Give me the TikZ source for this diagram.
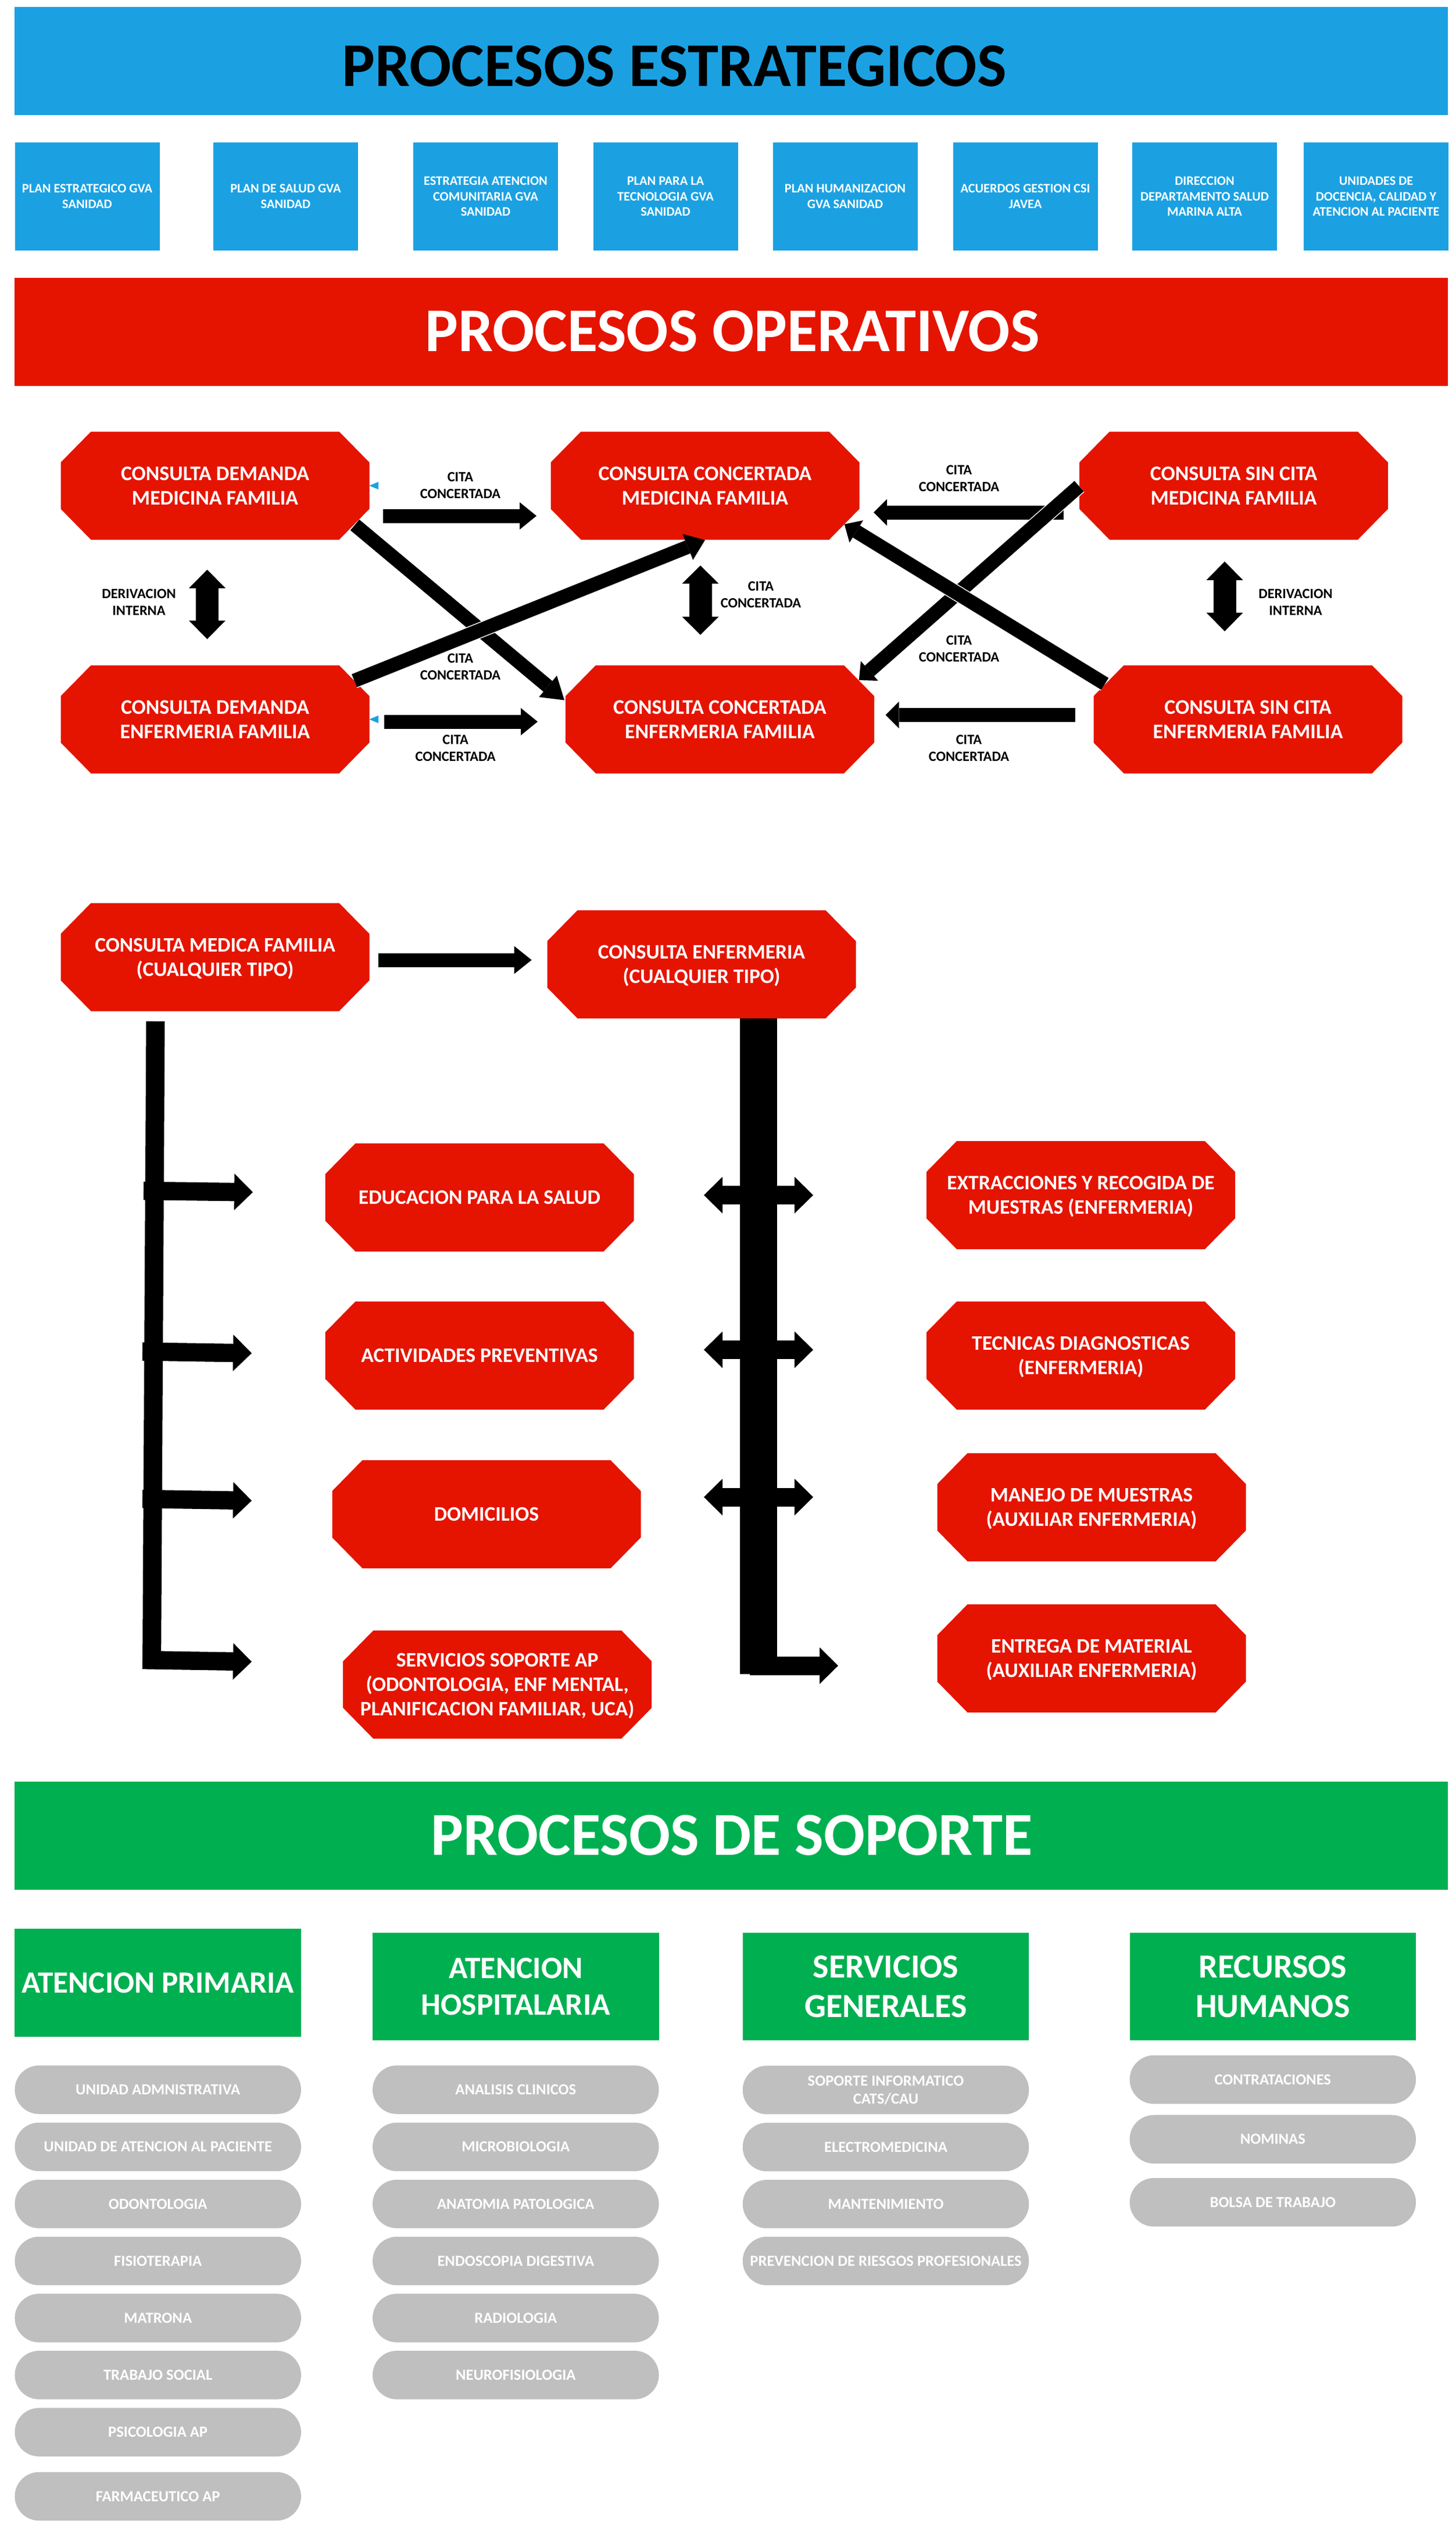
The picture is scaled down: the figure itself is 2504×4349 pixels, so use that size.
\documentclass[tikz,border=0pt]{standalone}
\usepackage{fontspec}
\setmainfont{Carlito}
\usetikzlibrary{arrows.meta}
\definecolor{bluec}{HTML}{1BA1E2}
\definecolor{redc}{HTML}{E51400}
\definecolor{greenc}{HTML}{00B050}
\definecolor{greyc}{HTML}{BFBFBF}
\newdimen\octxa \newdimen\octya \newdimen\octxb \newdimen\octyb
\makeatletter
\pgfdeclareshape{octabox}{
  \inheritsavedanchors[from=rectangle]
  \inheritanchorborder[from=rectangle]
  \inheritanchor[from=rectangle]{center}
  \inheritanchor[from=rectangle]{north}
  \inheritanchor[from=rectangle]{south}
  \inheritanchor[from=rectangle]{east}
  \inheritanchor[from=rectangle]{west}
  \backgroundpath{
    \southwest \octxa=\pgf@x \octya=\pgf@y
    \northeast \octxb=\pgf@x \octyb=\pgf@y
    \pgfpathmoveto{\pgfpoint{\octxa+52pt}{\octya}}
    \pgfpathlineto{\pgfpoint{\octxb-52pt}{\octya}}
    \pgfpathlineto{\pgfpoint{\octxb}{\octya+53pt}}
    \pgfpathlineto{\pgfpoint{\octxb}{\octyb-53pt}}
    \pgfpathlineto{\pgfpoint{\octxb-52pt}{\octyb}}
    \pgfpathlineto{\pgfpoint{\octxa+52pt}{\octyb}}
    \pgfpathlineto{\pgfpoint{\octxa}{\octyb-53pt}}
    \pgfpathlineto{\pgfpoint{\octxa}{\octya+53pt}}
    \pgfpathclose
  }
}
\makeatother
\newcommand{\fnt}[2]{\bfseries\fontsize{#1}{#2}\selectfont}
\newcommand{\sm}[1]{\smash{#1}}
\tikzset{
  x=1pt,y=-1pt,
  every node/.style={inner sep=0pt,outer sep=0pt,align=center},
  banner/.style={rectangle,minimum width=2466pt,minimum height=186pt},
  bannertext/.style={font=\fnt{#1}{#1}},
  stratbox/.style={rectangle,fill=bluec,text=white,minimum width=249pt,minimum height=186pt,font=\fnt{22.3}{26.5}},
  octa/.style={octabox,fill=redc,text=white,minimum width=531pt,minimum height=186pt,font=\fnt{#1}{42}},
  octa/.default=35.8,
  citalabel/.style={font=\fnt{24.4}{29}},
  heada/.style args={#1/#2}{rectangle,fill=greenc,text=white,minimum width=492.5pt,minimum height=185.5pt,font=\fnt{#1}{#2}},
  pill/.style={rectangle,rounded corners=41.7pt,fill=greyc,text=white,minimum width=492.5pt,minimum height=83.5pt,font=\fnt{26.6}{31}},
  conn/.style args={#1/#2/#3}{draw=black,line width=#1pt,-{Triangle[length=#2pt,width=#3pt,line width=0pt]}},
  dconn/.style args={#1/#2/#3}{draw=black,line width=#1pt,{Triangle[length=#2pt,width=#3pt,line width=0pt]}-{Triangle[length=#2pt,width=#3pt,line width=0pt]}},
  halo/.style={preaction={draw=white,line width=#1pt,-,shorten >=24pt}},
  marker/.style={fill=bluec},
}
\begin{document}
\begin{tikzpicture}
\useasboundingbox (0,0) rectangle (2504,4349);
% banners
\node[banner,fill=bluec] (bE) at (1258,105) {};
\node[bannertext=107] (tE) at (1160,114) {PROCESOS ESTRATEGICOS};
\foreach \n/\cx/\t in {s1/150/{PLAN ESTRATEGICO GVA\\SANIDAD},s2/491.5/{PLAN DE SALUD GVA\\SANIDAD},s3/835.5/{ESTRATEGIA ATENCION\\COMUNITARIA GVA\\SANIDAD},s4/1145/{PLAN PARA LA\\TECNOLOGIA GVA\\SANIDAD},s5/1454/{PLAN HUMANIZACION\\GVA SANIDAD},s6/1764/{ACUERDOS GESTION CSI\\JAVEA},s7/2072.5/{DIRECCION\\DEPARTAMENTO SALUD\\MARINA ALTA},s8/2367.5/{UNIDADES DE\\DOCENCIA, CALIDAD Y\\ATENCION AL PACIENTE}}
  \node[stratbox] (\n) at (\cx,338) {\t};
\node[banner,fill=redc] (bO) at (1258,571) {};
\node[bannertext=107,text=white] (tO) at (1260,570) {PROCESOS OPERATIVOS};
% top octagons
\node[octa] (dm) at (370,835.5) {CONSULTA DEMANDA\\MEDICINA FAMILIA};
\node[octa] (cm) at (1213,835.5) {CONSULTA CONCERTADA\\MEDICINA FAMILIA};
\node[octa] (sm) at (2122.5,835.5) {CONSULTA SIN CITA\\MEDICINA FAMILIA};
\node[octa] (de) at (370,1237.5) {CONSULTA DEMANDA\\ENFERMERIA FAMILIA};
\node[octa] (ce) at (1238.5,1237.5) {CONSULTA CONCERTADA\\ENFERMERIA FAMILIA};
\node[octa] (se) at (2147,1237.5) {CONSULTA SIN CITA\\ENFERMERIA FAMILIA};
% markers
\fill[marker] (635,835.5) -- (651,829) -- (651,842) -- cycle;
\fill[marker] (635,1237.5) -- (651,1231) -- (651,1244) -- cycle;
% labels
\foreach \n/\cx/\cy in {l1/792/835,l2/792/1147,l3/783.6/1287.5,l4/1309/1023,l5/1650/823,l6/1650/1116.5,l7/1667/1287.5}
  \node[citalabel] (\n) at (\cx,\cy) {CITA\\CONCERTADA};
\node[citalabel] (d1) at (239,1036) {DERIVACION\\INTERNA};
\node[citalabel] (d2) at (2229,1036) {DERIVACION\\INTERNA};
% connector ends
\coordinate (a1s) at (659,887.5); \coordinate (a1e) at (923,887.5);
\coordinate (a2s) at (661,1241.5); \coordinate (a2e) at (925,1241.5);
\coordinate (a3s) at (610.5,903); \coordinate (a3e) at (971,1204.5);
\coordinate (a4s) at (609.5,1171); \coordinate (a4e) at (1213,929);
\coordinate (a5s) at (356.5,980); \coordinate (a5e) at (356.5,1099.5);
\coordinate (a6s) at (1205,973); \coordinate (a6e) at (1205,1092);
\coordinate (a7s) at (1829.5,881.5); \coordinate (a7e) at (1503,881.5);
\coordinate (a8s) at (1850,1230); \coordinate (a8e) at (1523.5,1230);
\coordinate (a9s) at (1856.5,836.4); \coordinate (a9e) at (1477.8,1170);
\coordinate (a10s) at (1901,1176.5); \coordinate (a10e) at (1452.8,901.8);
\coordinate (a11s) at (2107,966); \coordinate (a11e) at (2107,1086);
\draw[conn=24/29/47] (a1s) -- (a1e);
\draw[conn=24/29/47] (a2s) -- (a2e);
\draw[conn=24/37/48] (a3s) -- (a3e);
\draw[conn=24/32/48,halo=27] (a4s) -- (a4e);
\draw[dconn=39/32/63] (a5s) -- (a5e);
\draw[dconn=39/31/63] (a6s) -- (a6e);
\draw[conn=24/23/46] (a7s) -- (a7e);
\draw[conn=24/23/46] (a8s) -- (a8e);
\draw[conn=24/24/45,halo=27] (a9s) -- (a9e);
\draw[conn=24/24/45,halo=27] (a10s) -- (a10e);
\draw[dconn=39/32/63] (a11s) -- (a11e);
% second block
\node[octa=35.5] (mf) at (370,1646.5) {CONSULTA MEDICA FAMILIA\\\sm{(CUALQUIER TIPO)}};
\node[octa=35.5] (ef) at (1207,1659) {CONSULTA ENFERMERIA\\\sm{(CUALQUIER TIPO)}};
\node[octa=35.5] (o1) at (825,2060) {EDUCACION PARA LA SALUD};
\node[octa=35.5] (o2) at (825,2332) {ACTIVIDADES PREVENTIVAS};
\node[octa=35.5] (o3) at (837,2605) {DOMICILIOS};
\node[octa=35.5] (o4) at (855.7,2898) {SERVICIOS SOPORTE AP\\(ODONTOLOGIA, ENF MENTAL,\\\sm{PLANIFICACION FAMILIAR, UCA)}};
\node[octa=35.5] (p1) at (1859.5,2056) {EXTRACCIONES Y RECOGIDA DE\\\sm{MUESTRAS (ENFERMERIA)}};
\node[octa=35.5] (p2) at (1859.5,2332) {TECNICAS DIAGNOSTICAS\\\sm{(ENFERMERIA)}};
\node[octa=35.5] (p3) at (1878,2593) {MANEJO DE MUESTRAS\\\sm{(AUXILIAR ENFERMERIA)}};
\node[octa=35.5] (p4) at (1878,2853) {ENTREGA DE MATERIAL\\\sm{(AUXILIAR ENFERMERIA)}};
\coordinate (b0s) at (651,1651.5); \coordinate (b0e) at (914.6,1651.5);
\draw[conn=24/30/48] (b0s) -- (b0e);
\coordinate (ls) at (267.5,1757); \coordinate (le) at (261,2871);
\draw[line width=32pt] (ls) -- (le);
\coordinate (l1s) at (247,2048.5); \coordinate (l1e) at (435,2051);
\coordinate (l2s) at (245,2325); \coordinate (l2e) at (433,2328);
\coordinate (l3s) at (245,2578.6); \coordinate (l3e) at (433,2581.6);
\coordinate (l4s) at (245,2855.6); \coordinate (l4e) at (433,2858.7);
\draw[conn=31.5/32/63] (l1s) -- (l1e);
\draw[conn=31.5/32/63] (l2s) -- (l2e);
\draw[conn=31.5/32/63] (l3s) -- (l3e);
\draw[conn=31.5/32/63] (l4s) -- (l4e);
\coordinate (rs) at (1305,1752); \coordinate (re) at (1305,2880);
\draw[line width=63.5pt] (rs) -- (re);
\coordinate (r1s) at (1211,2056); \coordinate (r1e) at (1399,2056);
\coordinate (r2s) at (1211,2322); \coordinate (r2e) at (1399,2322);
\coordinate (r3s) at (1211,2575.5); \coordinate (r3e) at (1399,2575.5);
\coordinate (r4s) at (1290,2865.5); \coordinate (r4e) at (1442,2865.5);
\draw[dconn=32/32/63] (r1s) -- (r1e);
\draw[dconn=32/32/63] (r2s) -- (r2e);
\draw[dconn=32/32/63] (r3s) -- (r3e);
\draw[conn=32/32/63] (r4s) -- (r4e);
% support
\node[banner,fill=greenc] (bS) at (1258,3158) {};
\node[bannertext=105,text=white] (tS) at (1259,3157) {PROCESOS DE SOPORTE};
\node[heada=53.2/53] (hA) at (271.7,3410.8) {ATENCION PRIMARIA};
\node[heada=53.6/63] (hB) at (887.3,3417.7) {ATENCION\\HOSPITALARIA};
\node[heada=58/68] (hC) at (1524,3417.7) {SERVICIOS\\GENERALES};
\node[heada=58/68] (hD) at (2189.8,3417.7) {RECURSOS\\HUMANOS};
\foreach \n/\cy/\t in {pa1/3595/UNIDAD ADMNISTRATIVA,pa2/3693.3/UNIDAD DE ATENCION AL PACIENTE,pa3/3791.5/ODONTOLOGIA,pa4/3889.6/FISIOTERAPIA,pa5/3987.8/MATRONA,pa6/4085.8/TRABAJO SOCIAL,pa7/4184.1/PSICOLOGIA AP,pa8/4294.5/FARMACEUTICO AP}
  \node[pill] (\n) at (271.7,\cy) {\t};
\foreach \n/\cy/\t in {pb1/3595/ANALISIS CLINICOS,pb2/3693.3/MICROBIOLOGIA,pb3/3791.5/ANATOMIA PATOLOGICA,pb4/3889.6/ENDOSCOPIA DIGESTIVA,pb5/3987.8/RADIOLOGIA,pb6/4085.8/NEUROFISIOLOGIA}
  \node[pill] (\n) at (887.3,\cy) {\t};
\foreach \n/\cy/\t in {pc1/3595.4/{SOPORTE INFORMATICO\\CATS/CAU},pc2/3693.6/ELECTROMEDICINA,pc3/3791.7/MANTENIMIENTO,pc4/3889.6/PREVENCION DE RIESGOS PROFESIONALES}
  \node[pill] (\n) at (1524,\cy) {\t};
\foreach \n/\cy/\t in {pd1/3577.5/CONTRATACIONES,pd2/3680.2/NOMINAS,pd3/3788.7/BOLSA DE TRABAJO}
  \node[pill] (\n) at (2189.8,\cy) {\t};
\end{tikzpicture}
\end{document}
